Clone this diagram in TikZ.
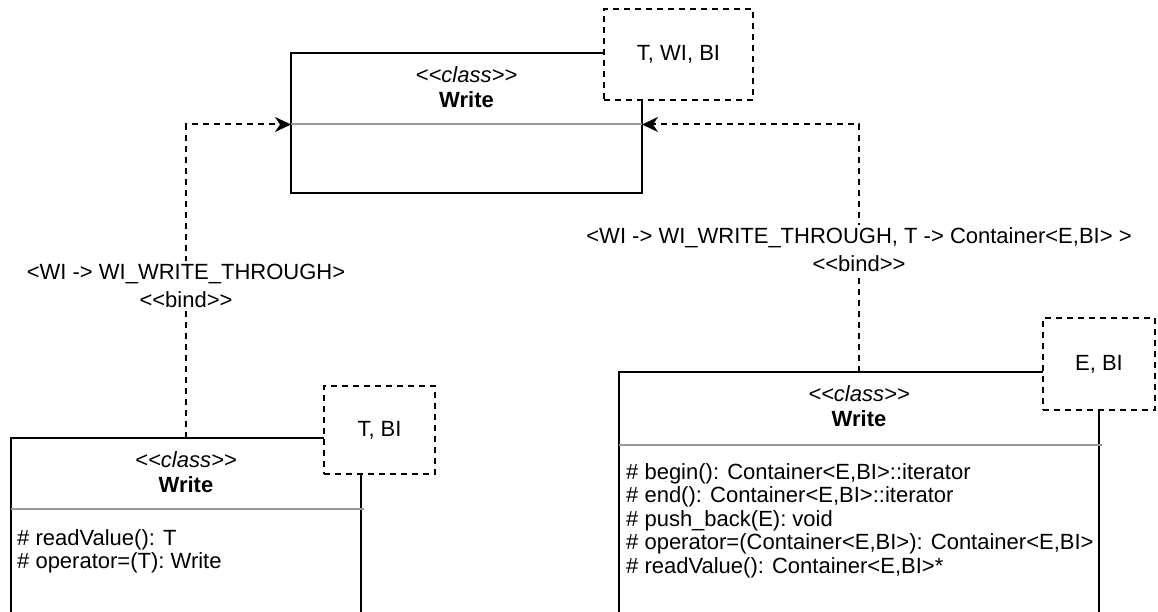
\documentclass[tikz,border=0pt]{standalone}
\usepackage{fontspec}
\setmainfont{Liberation Sans}
\usetikzlibrary{arrows.meta}
\definecolor{sepgray}{HTML}{999999}
\newcommand\diagfont{\fontsize{22}{26}\selectfont}
\tikzset{
  classbox/.style={draw=black, line width=2pt, fill=white, anchor=north west, inner sep=0pt, outer sep=0pt},
  sepline/.style={draw=sepgray, line width=2pt},
  tmplbox/.style={draw=black, line width=2pt, dash pattern=on 6pt off 5pt, fill=white,
    anchor=north west, inner sep=0pt, outer sep=0pt, font=\diagfont},
  stereo/.style={font=\diagfont\itshape, inner sep=0pt},
  cname/.style={font=\diagfont\bfseries, inner sep=0pt},
  member/.style={anchor=base west, inner sep=0pt, font=\diagfont},
  bindline/.style={draw=black, line width=2pt, dash pattern=on 6pt off 5pt,
    -{Stealth[length=16pt,width=15pt,inset=5pt]}},
  bindlabel/.style={fill=white, align=center, inner sep=3pt, font=\fontsize{22}{28}\selectfont},
}
\begin{document}
\begin{tikzpicture}[x=1pt, y={(0pt,-1pt)}]
\useasboundingbox (0,0) rectangle (1158,612);
\clip (0,0) rectangle (1158,612);

% generic class Write<T, WI, BI>
\node[classbox, minimum width=351pt, minimum height=140pt] (wt) at (291,53) {};
\draw[sepline] ([yshift=-71.5pt]wt.north west) -- ([yshift=-71.5pt]wt.north east);
\node[stereo] (wt-st) at ([yshift=-22pt]wt.north) {<{}<class>{}>};
\node[cname] (wt-nm) at ([yshift=-47pt]wt.north) {Write};
\node[tmplbox, minimum width=149pt, minimum height=91pt] (wt-par) at (604,9) {T, WI, BI};

% bound class Write<T, BI>
\node[classbox, minimum width=350pt, minimum height=300pt] (wl) at (11,438) {};
\draw[sepline] ([yshift=-71pt]wl.north west) -- ([yshift=-71pt,xshift=3pt]wl.north east);
\node[stereo] (wl-st) at ([yshift=-22pt]wl.north) {<{}<class>{}>};
\node[cname] (wl-nm) at ([yshift=-47pt]wl.north) {Write};
\node[member] (wl-m1) at ([xshift=6pt,yshift=-107pt]wl.north west) {\# readValue(): T};
\node[member] (wl-m2) at ([xshift=6pt,yshift=-130.5pt]wl.north west) {\# operator=(T): Write};
\node[tmplbox, minimum width=111pt, minimum height=88pt] (wl-par) at (324,386) {T, BI};

% bound class Write<E, BI>
\node[classbox, minimum width=480pt, minimum height=300pt] (wr) at (619,372) {};
\draw[sepline] ([yshift=-72.5pt]wr.north west) -- ([yshift=-72.5pt,xshift=3pt]wr.north east);
\node[stereo] (wr-st) at ([yshift=-22pt]wr.north) {<{}<class>{}>};
\node[cname] (wr-nm) at ([yshift=-47pt]wr.north) {Write};
\node[member] (wr-m1) at ([xshift=7pt,yshift=-107pt]wr.north west) {\# begin(): Container<E,BI>::iterator};
\node[member] (wr-m2) at ([xshift=7pt,yshift=-130.5pt]wr.north west) {\# end(): Container<E,BI>::iterator};
\node[member] (wr-m3) at ([xshift=7pt,yshift=-154pt]wr.north west) {\# push\_back(E): void};
\node[member] (wr-m4) at ([xshift=7pt,yshift=-177.5pt]wr.north west) {\# operator=(Container<E,BI>): Container<E,BI>};
\node[member] (wr-m5) at ([xshift=7pt,yshift=-201pt]wr.north west) {\# readValue(): Container<E,BI>*};
\node[tmplbox, minimum width=112pt, minimum height=92pt] (wr-par) at (1043,318) {E, BI};

% bind dependencies
\coordinate (wt-in-l) at ([yshift=-71.5pt]wt.north west);
\coordinate (wt-in-r) at ([yshift=-71.5pt]wt.north east);
\draw[bindline] (wl.north) |- (wt-in-l);
\draw[bindline] (wr.north) |- (wt-in-r);

\node[bindlabel] (bind-l) at (wl.north |- 0,286) {<WI -> WI\_WRITE\_THROUGH>\\<{}<bind>{}>};
\node[bindlabel] (bind-r) at (wr.north |- 0,250) {<WI -> WI\_WRITE\_THROUGH, T -> Container<E,BI> >\\<{}<bind>{}>};
\end{tikzpicture}
\end{document}
